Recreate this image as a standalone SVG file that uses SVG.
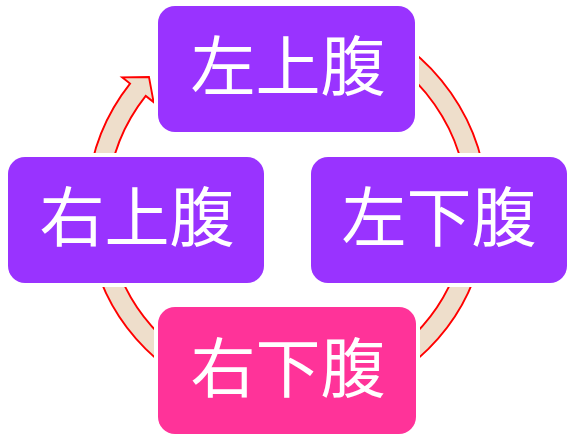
<svg xmlns="http://www.w3.org/2000/svg" width="579" height="440" viewBox="0 0 579 440">
<style>
.ring{fill:#EEDECB;stroke:#FF0000;stroke-width:1.9;stroke-linejoin:miter}
.box{stroke:#FFFFFF;stroke-width:8;paint-order:stroke}
.purple{fill:#9933FF}
.pink{fill:#FF3399}
.lbl{fill:#FFFFFF;font-family:"Noto Sans CJK SC","Noto Sans CJK JP",sans-serif;font-size:65px;text-anchor:middle;dominant-baseline:central}
</style>
<rect width="579" height="440" fill="#FFFFFF"/>
<g id="connectors">
<path class="ring" d="M 87.76 190.07 A 200 200 0 0 1 130.04 83.54 L 122.2 77.3 L 148.95 76.95 L 153.6 102.1 L 145.74 95.94 A 180 180 0 0 0 107.69 191.81 Z"/>
<path class="ring" d="M 355.40 19.56 A 200 200 0 0 1 487 207.5 L 467 207.5 A 180 180 0 0 0 348.56 38.36 Z"/>
<path class="ring" d="M 483.96 242.23 A 200 200 0 0 1 321.73 404.46 L 318.26 384.77 A 180 180 0 0 0 464.27 238.76 Z"/>
<path class="ring" d="M 252.27 404.46 A 200 200 0 0 1 90.04 242.23 L 109.73 238.76 A 180 180 0 0 0 255.74 384.77 Z"/>
</g>
<g id="node-top">
<rect class="box purple" x="158" y="6" width="257" height="126" rx="17"/>
<text class="lbl" x="288" y="62">左上腹</text>
</g>
<g id="node-right">
<rect class="box purple" x="311" y="157" width="256" height="126" rx="17"/>
<text class="lbl" x="439" y="213">左下腹</text>
</g>
<g id="node-bottom">
<rect class="box pink" x="158" y="307" width="258" height="127" rx="17"/>
<text class="lbl" x="288" y="364">右下腹</text>
</g>
<g id="node-left">
<rect class="box purple" x="8" y="157" width="256" height="126" rx="17"/>
<text class="lbl" x="137" y="213">右上腹</text>
</g>
</svg>
